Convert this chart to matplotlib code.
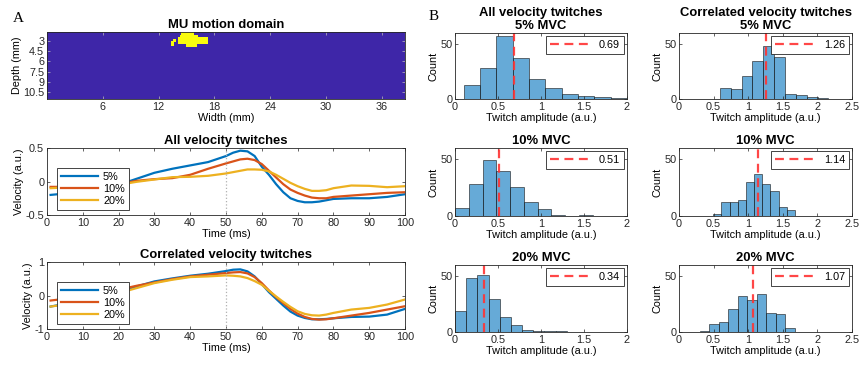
import matplotlib
matplotlib.use("Agg")
import matplotlib.pyplot as plt
import numpy as np
from matplotlib.colors import ListedColormap

plt.rcParams["font.family"] = ["Liberation Sans", "DejaVu Sans"]
plt.rcParams["font.size"] = 7.8
plt.rcParams["axes.linewidth"] = 0.6
plt.rcParams["axes.edgecolor"] = "#262626"
plt.rcParams["xtick.color"] = "#262626"
plt.rcParams["ytick.color"] = "#262626"

# ---- MU motion domain (blob as row spans, mm) ----
domain_width = 38.5
domain_depth = (1.6, 11.6)
blob_depth_top = [1.6, 2.1, 2.3, 3.3, 2.7, 3.0]
blob_depth_bottom = [2.3, 2.4, 3.4, 3.9, 3.1, 3.7]
blob_x_left = [14.4, 14.3, 14.1, 14.9, 13.6, 13.3]
blob_x_right = [15.8, 16.2, 17.3, 16.1, 13.9, 13.7]

# ---- velocity twitches ----
t_ms = [1, 5, 10, 15, 20, 25, 30, 35, 40, 45, 50, 52, 54, 56, 58, 60, 62, 64,
        66, 68, 70, 72, 74, 76, 78, 80, 85, 90, 95, 100]
all_5 = [-0.2, -0.18, -0.14, -0.1, -0.05, 0.04, 0.13, 0.19, 0.24, 0.29, 0.38, 0.43,
         0.46, 0.45, 0.38, 0.22, 0.1, -0.04, -0.16, -0.25, -0.29, -0.31, -0.31, -0.3,
         -0.28, -0.26, -0.25, -0.25, -0.23, -0.19]
all_10 = [-0.08, -0.08, -0.07, -0.06, -0.04, 0.01, 0.035, 0.05, 0.1, 0.19, 0.27, 0.3,
          0.33, 0.34, 0.32, 0.26, 0.16, 0.06, -0.04, -0.12, -0.17, -0.21, -0.24, -0.25,
          -0.25, -0.23, -0.21, -0.19, -0.17, -0.16]
all_20 = [-0.1, -0.09, -0.08, -0.07, -0.05, -0.005, 0.03, 0.065, 0.07, 0.085, 0.12, 0.14,
          0.16, 0.18, 0.18, 0.175, 0.15, 0.1, 0.04, -0.02, -0.07, -0.11, -0.14, -0.14,
          -0.13, -0.1, -0.06, -0.065, -0.085, -0.07]
corr_5 = [-0.33, -0.25, -0.1, 0.03, 0.12, 0.27, 0.42, 0.51, 0.59, 0.65, 0.73, 0.77,
          0.78, 0.72, 0.57, 0.34, 0.1, -0.1, -0.3, -0.48, -0.6, -0.67, -0.71, -0.71,
          -0.7, -0.68, -0.64, -0.63, -0.57, -0.4]
corr_10 = [-0.15, -0.1, 0.0, 0.1, 0.17, 0.29, 0.39, 0.49, 0.57, 0.62, 0.67, 0.69,
           0.7, 0.66, 0.55, 0.37, 0.15, -0.05, -0.23, -0.4, -0.54, -0.64, -0.7, -0.72,
           -0.71, -0.68, -0.6, -0.52, -0.42, -0.32]
corr_20 = [-0.33, -0.27, -0.15, -0.03, 0.07, 0.22, 0.37, 0.47, 0.55, 0.57, 0.6, 0.59,
           0.57, 0.52, 0.43, 0.32, 0.14, -0.03, -0.19, -0.34, -0.47, -0.55, -0.59, -0.6,
           -0.57, -0.52, -0.42, -0.37, -0.27, -0.12]
levels = ["5%", "10%", "20%"]

# ---- twitch amplitude histograms (first edge, bin width, counts, mean) ----
hist_all_start = [0.1, 0.0, 0.0]
hist_all_width = [0.19, 0.16, 0.13]
hist_all_counts = [
    [13, 28, 57, 37, 18, 10, 5, 3, 2, 1],
    [7, 28, 49, 40, 26, 12, 6, 1, 0, 1],
    [19, 48, 51, 30, 13, 6, 2, 1, 1, 1],
]
hist_all_mean = [0.69, 0.51, 0.34]
hist_corr_start = [0.59, 0.495, 0.297]
hist_corr_width = [0.157, 0.118, 0.138]
hist_corr_counts = [
    [10, 9, 21, 35, 48, 38, 5, 4, 2, 1],
    [2, 12, 12, 14, 30, 37, 28, 22, 8, 5],
    [1, 7, 9, 21, 32, 29, 34, 17, 16, 4],
]
hist_corr_mean = [1.26, 1.14, 1.07]
mvc_titles = ["5% MVC", "10% MVC", "20% MVC"]

line_colors = ["#0072BD", "#D95319", "#EDB120"]
W, H = 862, 366


def px_axes(fig, left, top, right, bottom):
    return fig.add_axes([left / W, 1 - bottom / H, (right - left) / W, (bottom - top) / H])


def style(ax):
    ax.tick_params(direction="in", top=True, right=True, length=2.5, width=0.5, pad=2)


def plot_twitches(ax, series, title, ylim):
    for y, c, lab in zip(series, line_colors, levels):
        ax.plot(t_ms, y, color=c, lw=1.6, label=lab)
    ax.axvline(50, color="#b0b0b0", ls=":", lw=0.9)
    ax.set_xlim(0, 100)
    ax.set_ylim(-ylim, ylim)
    ax.set_yticks([-ylim, 0, ylim])
    ax.set_yticklabels([f"{-ylim:g}", "0", f"{ylim:g}"])
    ax.set_xticks(range(0, 101, 10))
    ax.set_xlabel("Time (ms)", labelpad=1)
    ax.set_ylabel("Velocity (a.u.)", labelpad=1)
    ax.set_title(title, fontweight="bold", pad=3)
    leg = ax.legend(loc="lower left", bbox_to_anchor=(0.028, 0.08), borderaxespad=0,
                    fancybox=False, edgecolor="#262626", framealpha=1,
                    handlelength=3.4, handletextpad=0.5, labelspacing=0.2,
                    borderpad=0.35)
    leg.get_frame().set_linewidth(0.6)
    style(ax)


def plot_hist(ax, start, width, counts, mean, xmax, title):
    lefts = start + width * np.arange(len(counts))
    ax.bar(lefts, counts, width=width, align="edge", color="#0072BD", alpha=0.6,
           edgecolor="#1a1a1a", linewidth=0.7)
    ax.axvline(mean, color="#FF3333", ls=(0, (4, 2.5)), lw=1.6, alpha=0.9,
               label=f"{mean:.2f}")
    ax.set_xlim(0, xmax)
    ax.set_ylim(0, 60)
    ax.set_yticks([0, 50])
    ax.set_xticks(np.arange(0, xmax + 0.01, 0.5))
    ax.set_xticklabels([f"{v:g}" for v in np.arange(0, xmax + 0.01, 0.5)])
    ax.set_xlabel("Twitch amplitude (a.u.)", labelpad=1)
    ax.set_ylabel("Count", labelpad=1)
    ax.set_title(title, fontweight="bold", pad=3, linespacing=1.1)
    leg = ax.legend(loc="upper right", borderaxespad=0.3, fancybox=False,
                    edgecolor="#262626", framealpha=1, handlelength=3.5,
                    handletextpad=1.0, borderpad=0.35)
    leg.get_frame().set_linewidth(0.6)
    style(ax)


fig = plt.figure(figsize=(W / 100, H / 100), dpi=100)

# MU motion domain
ax = px_axes(fig, 47, 32, 405, 99)
nx, nz = 385, 100
xs = np.linspace(0, domain_width, nx)
zs = np.linspace(domain_depth[0], domain_depth[1], nz)
X, Z = np.meshgrid(xs, zs)
mask = np.zeros_like(X)
for zt, zb, xl, xr in zip(blob_depth_top, blob_depth_bottom, blob_x_left, blob_x_right):
    mask[(Z >= zt) & (Z <= zb) & (X >= xl) & (X <= xr)] = 1
ax.imshow(mask, cmap=ListedColormap(["#3E26A8", "#F9FB0E"]), aspect="auto",
          extent=[0, domain_width, domain_depth[1], domain_depth[0]],
          interpolation="nearest")
ax.set_xticks(range(6, 37, 6))
ax.set_yticks([3, 4.5, 6, 7.5, 9, 10.5])
ax.set_yticklabels(["3", "4.5", "6", "7.5", "9", "10.5"])
ax.set_xlabel("Width (mm)", labelpad=1)
ax.set_ylabel("Depth (mm)", labelpad=1)
ax.set_title("MU motion domain", fontweight="bold", pad=3)
style(ax)
ax.tick_params(color="#bbbbbb")

plot_twitches(px_axes(fig, 47, 148, 405, 215), [all_5, all_10, all_20],
              "All velocity twitches", 0.5)
plot_twitches(px_axes(fig, 47, 262, 405, 329), [corr_5, corr_10, corr_20],
              "Correlated velocity twitches", 1)

rows = [(33, 99), (148, 216), (265, 332)]
for i, (top, bottom) in enumerate(rows):
    t_left = mvc_titles[i] if i else "All velocity twitches\n" + mvc_titles[i]
    t_right = mvc_titles[i] if i else "Correlated velocity twitches\n" + mvc_titles[i]
    plot_hist(px_axes(fig, 455, top, 627, bottom), hist_all_start[i], hist_all_width[i],
              hist_all_counts[i], hist_all_mean[i], 2, t_left)
    plot_hist(px_axes(fig, 679, top, 852, bottom), hist_corr_start[i], hist_corr_width[i],
              hist_corr_counts[i], hist_corr_mean[i], 2.5, t_right)

fig.text(13 / W, 1 - 22 / H, "A", family="Liberation Serif", fontsize=11)
fig.text(429 / W, 1 - 20 / H, "B", family="Liberation Serif", fontsize=11)

fig.savefig("out.png", dpi=100)
